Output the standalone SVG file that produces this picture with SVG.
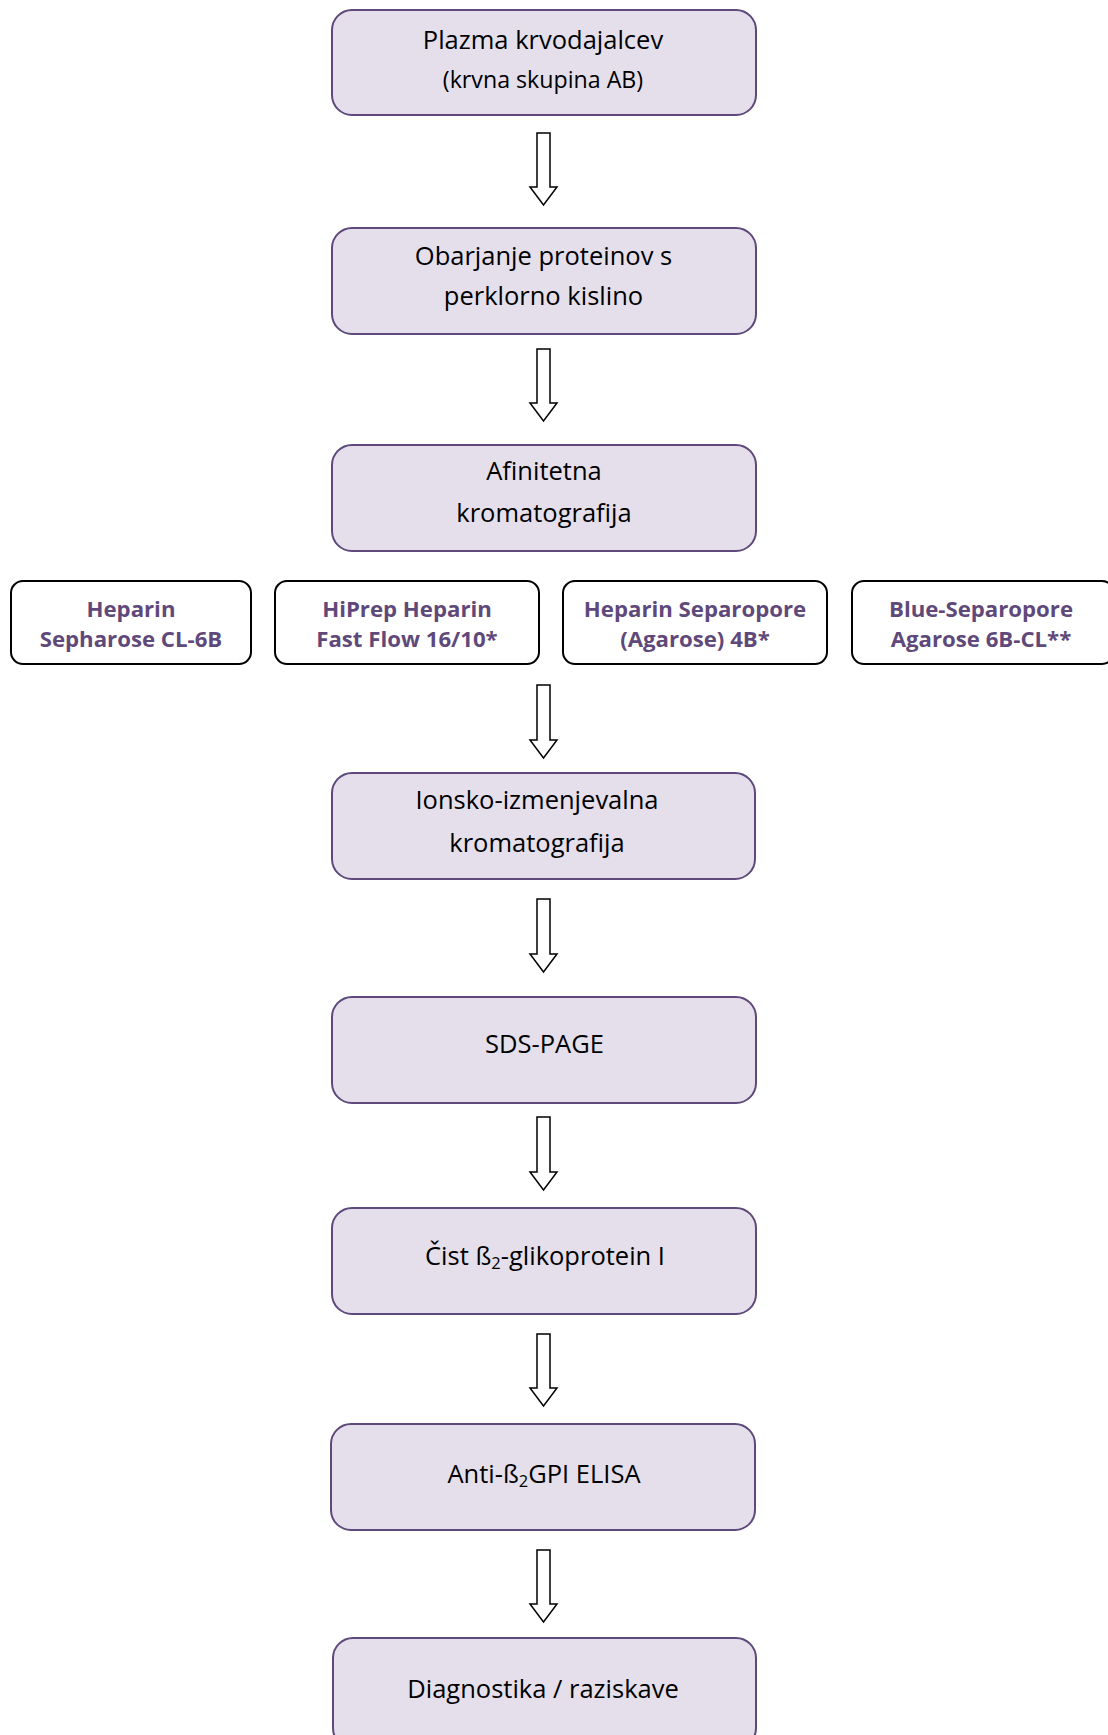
<svg xmlns="http://www.w3.org/2000/svg" width="1108" height="1735" viewBox="0 0 1108 1735">
<style>
.main{fill:#e5dfec;stroke:#5f497a;stroke-width:2}
.sub{fill:#ffffff;stroke:#000000;stroke-width:2}
.t{font-family:"Open Sans","Liberation Sans",sans-serif;font-size:25.5px;fill:#000;text-anchor:middle}
.ts{font-family:"Open Sans","Liberation Sans",sans-serif;font-size:23.2px;fill:#000;text-anchor:middle}
.b{font-family:"Open Sans","Liberation Sans",sans-serif;font-size:22.2px;font-weight:bold;fill:#5f497a;text-anchor:middle}
.arr{fill:#ffffff;stroke:#000000;stroke-width:1.5;stroke-linejoin:miter}
</style>
<rect width="1108" height="1735" fill="#ffffff"/>
<g id="connectors">
<path class="arr" d="M537,133 H550 V187 H557 L543.5,205 L530,187 H537 Z"/>
<path class="arr" d="M537,349 H550 V403 H557 L543.5,421 L530,403 H537 Z"/>
<path class="arr" d="M537,685 H550 V740 H557 L543.5,758 L530,740 H537 Z"/>
<path class="arr" d="M537,899 H550 V954 H557 L543.5,972 L530,954 H537 Z"/>
<path class="arr" d="M537,1117 H550 V1172 H557 L543.5,1190 L530,1172 H537 Z"/>
<path class="arr" d="M537,1334 H550 V1388 H557 L543.5,1406 L530,1388 H537 Z"/>
<path class="arr" d="M537,1550 H550 V1604 H557 L543.5,1622 L530,1604 H537 Z"/>
</g>
<g id="n1"><rect class="main" x="332" y="10" width="424" height="105" rx="20"/>
<text class="t" x="543" y="48.5">Plazma krvodajalcev</text>
<text class="ts" x="543" y="87.5">(krvna skupina AB)</text></g>
<g id="n2"><rect class="main" x="332" y="228" width="424" height="106" rx="20"/>
<text class="t" x="543.5" y="265">Obarjanje proteinov s</text>
<text class="t" x="543.5" y="305">perklorno kislino</text></g>
<g id="n3"><rect class="main" x="332" y="445" width="424" height="106" rx="20"/>
<text class="t" x="544" y="480">Afinitetna</text>
<text class="t" x="544" y="522">kromatografija</text></g>
<g id="s1"><rect class="sub" x="11" y="581" width="240" height="83" rx="12"/>
<text class="b" x="131" y="617">Heparin</text>
<text class="b" x="131" y="647">Sepharose CL-6B</text></g>
<g id="s2"><rect class="sub" x="275" y="581" width="264" height="83" rx="12"/>
<text class="b" x="407" y="617">HiPrep Heparin</text>
<text class="b" x="407" y="647">Fast Flow 16/10*</text></g>
<g id="s3"><rect class="sub" x="563" y="581" width="264" height="83" rx="12"/>
<text class="b" x="695" y="617">Heparin Separopore</text>
<text class="b" x="695" y="647">(Agarose) 4B*</text></g>
<g id="s4"><rect class="sub" x="852" y="581" width="262" height="83" rx="12"/>
<text class="b" x="981" y="617">Blue-Separopore</text>
<text class="b" x="981" y="647">Agarose 6B-CL**</text></g>
<g id="n4"><rect class="main" x="332" y="773" width="423" height="106" rx="20"/>
<text class="t" x="537" y="809">Ionsko-izmenjevalna</text>
<text class="t" x="537" y="852">kromatografija</text></g>
<g id="n5"><rect class="main" x="332" y="997" width="424" height="106" rx="20"/>
<text class="t" x="544.5" y="1053">SDS-PAGE</text></g>
<g id="n6"><rect class="main" x="332" y="1208" width="424" height="106" rx="20"/>
<text class="t" x="545" y="1265">Čist ß<tspan font-size="16.5" dy="4">2</tspan><tspan dy="-4">-glikoprotein I</tspan></text></g>
<g id="n7"><rect class="main" x="331" y="1424" width="424" height="106" rx="20"/>
<text class="t" x="544" y="1483">Anti-ß<tspan font-size="16.5" dy="4">2</tspan><tspan dy="-4">GPI ELISA</tspan></text></g>
<g id="n8"><rect class="main" x="333" y="1638" width="423" height="110" rx="20"/>
<text class="t" x="543" y="1698">Diagnostika / raziskave</text></g>
</svg>
